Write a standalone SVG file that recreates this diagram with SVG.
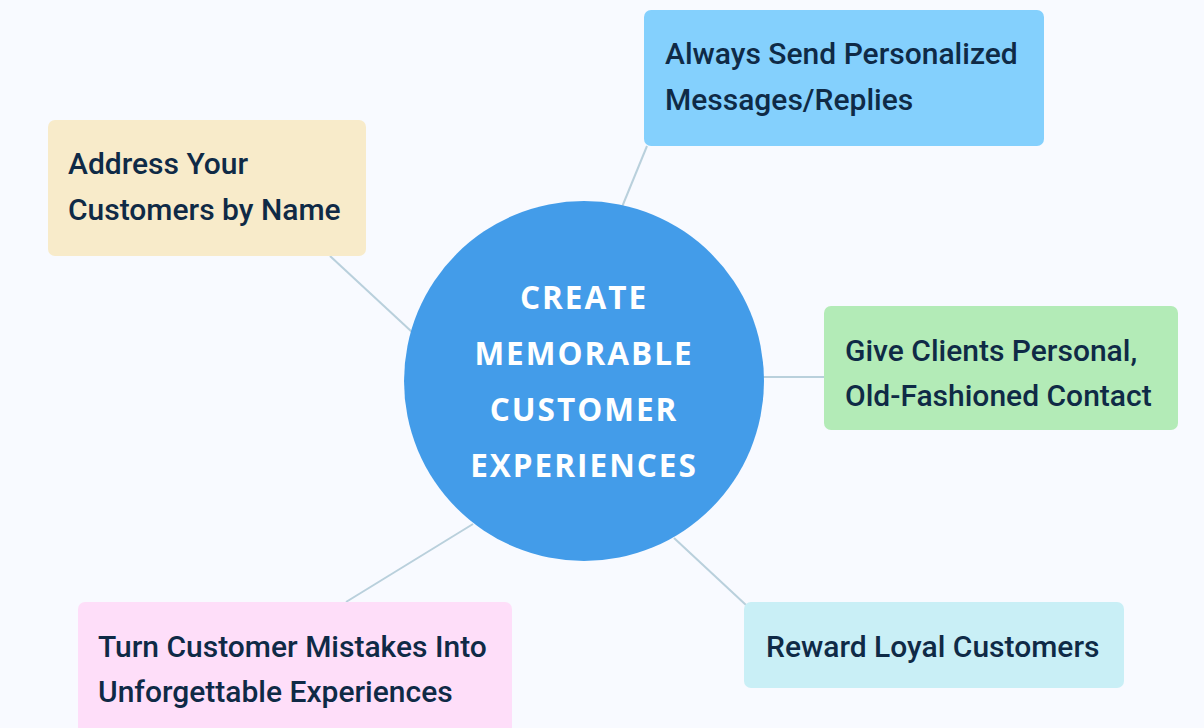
<svg xmlns="http://www.w3.org/2000/svg" width="1204" height="728" viewBox="0 0 1204 728">
<style>
.lbl{font-family:Roboto,"Liberation Sans",sans-serif;font-weight:500;font-size:30px;fill:#0f2a46}
.ctr{font-family:"Open Sans","Noto Sans",sans-serif;font-weight:700;font-size:31.5px;fill:#ffffff;letter-spacing:2px;text-anchor:middle}
.edge{stroke:#b9d0dc;stroke-width:2;fill:none}
</style>
<rect width="1204" height="728" fill="#f8faff"/>
<g id="connectors">
<line class="edge" x1="330" y1="256" x2="412" y2="332"/>
<line class="edge" x1="647" y1="146" x2="622" y2="207"/>
<line class="edge" x1="762" y1="377" x2="824" y2="377"/>
<line class="edge" x1="674" y1="538" x2="746" y2="605"/>
<line class="edge" x1="346" y1="602" x2="473" y2="524"/>
</g>
<g id="center">
<circle cx="584" cy="381" r="180" fill="#439ce9"/>
<text class="ctr" x="584" y="309">CREATE</text>
<text class="ctr" x="584" y="365">MEMORABLE</text>
<text class="ctr" x="584" y="421">CUSTOMER</text>
<text class="ctr" x="584" y="477">EXPERIENCES</text>
</g>
<g id="address">
<rect x="48" y="120" width="318" height="136" rx="7" fill="#f8ebca"/>
<text class="lbl" x="68" y="174">Address Your</text>
<text class="lbl" x="68" y="220">Customers by Name</text>
</g>
<g id="always">
<rect x="644" y="10" width="400" height="136" rx="7" fill="#84d0fd"/>
<text class="lbl" x="665" y="64">Always Send Personalized</text>
<text class="lbl" x="665" y="110">Messages/Replies</text>
</g>
<g id="give">
<rect x="824" y="306" width="354" height="124" rx="7" fill="#b3ebb7"/>
<text class="lbl" x="845" y="361">Give Clients Personal,</text>
<text class="lbl" x="845" y="406">Old-Fashioned Contact</text>
</g>
<g id="reward">
<rect x="744" y="602" width="380" height="86" rx="7" fill="#c9eff6"/>
<text class="lbl" x="766" y="657">Reward Loyal Customers</text>
</g>
<g id="turn">
<rect x="78" y="602" width="434" height="140" rx="7" fill="#fedef9"/>
<text class="lbl" x="98" y="657">Turn Customer Mistakes Into</text>
<text class="lbl" x="98" y="702">Unforgettable Experiences</text>
</g>
</svg>
